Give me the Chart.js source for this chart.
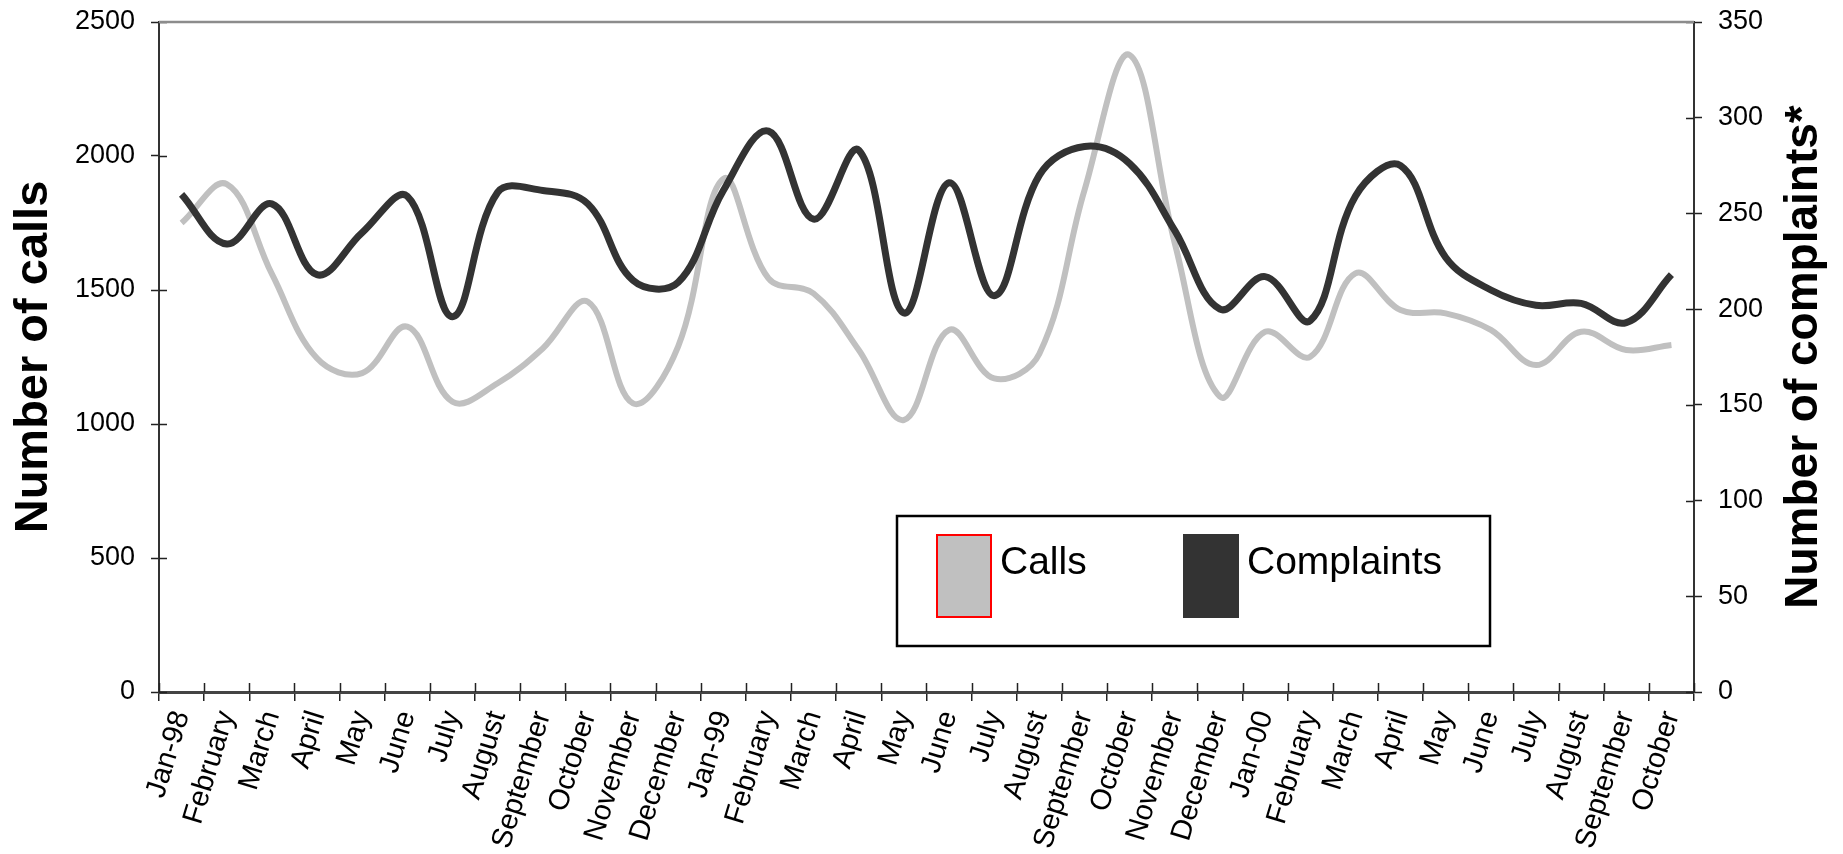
<!DOCTYPE html>
<html>
<head>
<meta charset="utf-8">
<script src="https://cdn.jsdelivr.net/npm/chart.js@4.4.1/dist/chart.umd.min.js"></script>
<style>
    html, body { margin: 0; padding: 0; background: #fff; }
    canvas { display: block; }
</style>
</head>
<body>
<canvas id="myChart" width="1843" height="854"></canvas>
<script>
// Monthly labels, Jan 1998 to Oct 2000
const months = [
    'Jan-98', 'February', 'March', 'April', 'May', 'June', 'July', 'August', 'September', 'October', 'November', 'December',
    'Jan-99', 'February', 'March', 'April', 'May', 'June', 'July', 'August', 'September', 'October', 'November', 'December',
    'Jan-00', 'February', 'March', 'April', 'May', 'June', 'July', 'August', 'September', 'October'
];
const calls = [
    1750, 1895, 1560, 1245, 1190, 1363, 1083, 1152, 1282, 1456, 1077, 1290,
    1915, 1543, 1487, 1276, 1015, 1351, 1170, 1262, 1873, 2377, 1674, 1102,
    1344, 1251, 1562, 1425, 1413, 1351, 1220, 1344, 1276, 1295
];
const complaints = [
    260, 234, 255, 218, 240, 259, 196, 261, 262, 255, 215, 214,
    262, 293, 247, 283, 198, 266, 207, 270, 285, 276, 241, 200,
    217, 194, 259, 275, 227, 210, 202, 203, 193, 218
];
const callTicks = [0, 500, 1000, 1500, 2000, 2500];
const complaintTicks = [0, 50, 100, 150, 200, 250, 300, 350];

const FONT = '"Liberation Sans", Arial, Helvetica, sans-serif';

document.addEventListener("DOMContentLoaded", function() {
    const ctx = document.getElementById('myChart').getContext('2d');

    // tick marks in the reference cross the axis lines, chart.js only draws the outer half
    const crossTicks = {
        id: 'crossTicks',
        afterDraw(chart) {
            const c = chart.ctx;
            const area = chart.chartArea;
            const x = chart.scales.x, y = chart.scales.y, y1 = chart.scales.y1;
            c.save();
            c.strokeStyle = '#222';
            c.lineWidth = 1.5;
            c.beginPath();
            y.ticks.forEach(function(t) {
                const py = Math.round(y.getPixelForValue(t.value)) + 0.5;
                c.moveTo(area.left, py);
                c.lineTo(area.left + 8, py);
            });
            y1.ticks.forEach(function(t) {
                const py = Math.round(y1.getPixelForValue(t.value)) + 0.5;
                c.moveTo(area.right - 8, py);
                c.lineTo(area.right, py);
            });
            const half = (x.getPixelForValue(1) - x.getPixelForValue(0)) / 2;
            for (let i = 0; i <= months.length; i++) {
                const px = Math.round(x.getPixelForValue(i) - half) + 0.5;
                c.moveTo(px, area.bottom - 9);
                c.lineTo(px, area.bottom);
            }
            c.stroke();

            // grey frame line along the top
            c.strokeStyle = '#8c8c8c';
            c.lineWidth = 2.5;
            c.beginPath();
            c.moveTo(area.left, area.top);
            c.lineTo(area.right, area.top);
            c.stroke();
            c.restore();
        }
    };

    // right axis title reads bottom-to-top like the left one
    const rightTitle = {
        id: 'rightTitle',
        afterDraw(chart) {
            const c = chart.ctx;
            const area = chart.chartArea;
            c.save();
            c.translate(chart.width - 39, (area.top + area.bottom) / 2);
            c.rotate(-Math.PI / 2);
            c.font = 'bold 46px ' + FONT;
            c.fillStyle = '#000';
            c.textAlign = 'center';
            c.textBaseline = 'middle';
            c.fillText('Number of complaints*', 0, 0);
            c.restore();
        }
    };

    // boxed legend sitting inside the plot
    const boxLegend = {
        id: 'boxLegend',
        afterDraw(chart) {
            const c = chart.ctx;
            c.save();
            c.fillStyle = '#fff';
            c.fillRect(897, 516, 593, 130);
            c.strokeStyle = '#000';
            c.lineWidth = 2.5;
            c.strokeRect(897, 516, 593, 130);
            const swatchX = [936, 1183];
            chart.data.datasets.forEach(function(ds, i) {
                const sx = swatchX[i];
                c.fillStyle = ds.borderColor;
                c.fillRect(sx, 534, 56, 84);
                if (ds.swatchEdge) {
                    c.strokeStyle = ds.swatchEdge;
                    c.lineWidth = 2;
                    c.strokeRect(sx + 1, 535, 54, 82);
                }
                c.fillStyle = '#000';
                c.font = '39px ' + FONT;
                c.textBaseline = 'alphabetic';
                c.fillText(ds.label, sx + 64, 574);
            });
            c.restore();
        }
    };

    const plainNumber = function(value) { return String(value); };

    // keep the plot box where the reference has it (tick label padding would push it down)
    const fitVertical = function(width) {
        return function(scale) {
            scale.width = width;
            scale.paddingTop = 0;
            scale.paddingBottom = 0;
        };
    };

    const myChart = new Chart(ctx, {
        type: 'line',
        data: {
            labels: months,
            datasets: [{
                label: 'Calls',
                data: calls,
                yAxisID: 'y',
                borderColor: '#c0c0c0',
                swatchEdge: '#ff0000',
                borderWidth: 6,
                pointRadius: 0,
                tension: 0.38,
                order: 1
            }, {
                label: 'Complaints',
                data: complaints,
                yAxisID: 'y1',
                borderColor: '#333333',
                borderWidth: 7,
                pointRadius: 0,
                tension: 0.38,
                order: 0
            }]
        },
        options: {
            responsive: false,
            animation: false,
            devicePixelRatio: 1,
            layout: { padding: { top: 22 } },
            plugins: {
                legend: { display: false },
                tooltip: { enabled: false }
            },
            scales: {
                x: {
                    offset: true,
                    grid: { drawOnChartArea: false, offset: true, tickLength: 9, color: '#222', lineWidth: 1.5 },
                    border: { color: '#444', width: 3 },
                    ticks: {
                        autoSkip: false,
                        maxRotation: 73,
                        minRotation: 73,
                        padding: 6,
                        color: '#000',
                        font: { family: FONT, size: 29 }
                    },
                    afterFit(scale) { scale.height = 162; }
                },
                y: {
                    position: 'left',
                    min: 0,
                    max: 2500,
                    afterBuildTicks(scale) { scale.ticks = callTicks.map(v => ({ value: v })); },
                    grid: { drawOnChartArea: false, tickLength: 8, tickColor: '#222', tickWidth: 1.5 },
                    border: { color: '#333', width: 2 },
                    ticks: { padding: 16, color: '#000', callback: plainNumber, font: { family: FONT, size: 27 } },
                    title: {
                        display: true,
                        text: 'Number of calls',
                        color: '#000',
                        padding: { top: 6, bottom: 0 },
                        font: { family: FONT, size: 47, weight: 'bold' }
                    },
                    afterFit: fitVertical(159)
                },
                y1: {
                    position: 'right',
                    min: 0,
                    max: 350,
                    afterBuildTicks(scale) { scale.ticks = complaintTicks.map(v => ({ value: v })); },
                    grid: { drawOnChartArea: false, tickLength: 8, tickColor: '#222', tickWidth: 1.5 },
                    border: { color: '#333', width: 2 },
                    ticks: { padding: 16, color: '#000', callback: plainNumber, font: { family: FONT, size: 27 } },
                    afterFit: fitVertical(149)
                }
            }
        },
        plugins: [crossTicks, rightTitle, boxLegend]
    });
});
</script>
</body>
</html>
